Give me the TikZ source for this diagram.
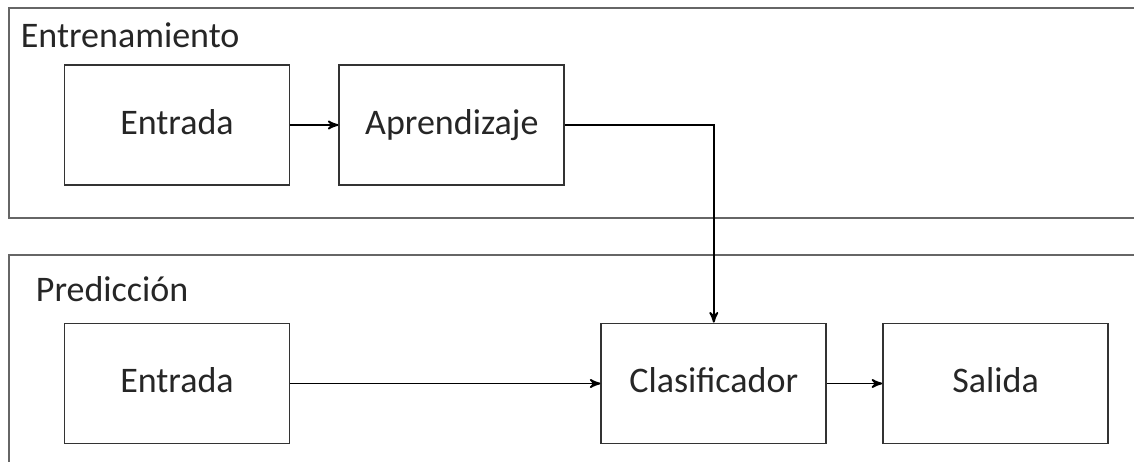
\documentclass[tikz,border=0pt]{standalone}
\usepackage{fontspec}
\setmainfont{Carlito}
\usetikzlibrary{arrows}
\usetikzlibrary{positioning}

\begin{document}
\begin{tikzpicture}[x=0.5pt,y=-0.5pt,->,>=stealth',line width=0.9pt,auto,node distance=24pt,
				bloque/.style={draw=black!80,text=black!85,minimum width=112.5pt,minimum height=60pt,inner sep=0pt,
					text height=12.5pt,text depth=3.5pt,font=\fontsize{18}{22}\selectfont},
				marco/.style={-,draw=black!60,line width=1pt},
				titulo/.style={anchor=base west,text=black!85,inner sep=0pt,font=\fontsize{18}{22}\selectfont}]
				\useasboundingbox (0,0) rectangle (1134,461);
				% marcos abiertos a la derecha
				\draw[marco] (1140,8) -| (9,218) -- (1140,218);
				\draw[marco] (1140,255) -| (9,470);
				\node[titulo] (tent) at (20,47) {Entrenamiento};
				\node[titulo] (tpre) at (35,301) {Predicción};

				\node[bloque] (ent1) at (177,125) {Entrada};
				\node[bloque] (apr) [right=of ent1] {Aprendizaje};
				\node[bloque] (ent2) at (177,383.5) {Entrada};
				\node[bloque] (clas) [right=155pt of ent2] {Clasificador};
				\node[bloque] (sal) [right=27.5pt of clas] {Salida};

					\draw (ent1) -- (apr);
					\draw (apr.east) -| (clas.north);
					\draw (ent2) -- (clas);
					\draw (clas) -- (sal);
			\end{tikzpicture}
\end{document}
